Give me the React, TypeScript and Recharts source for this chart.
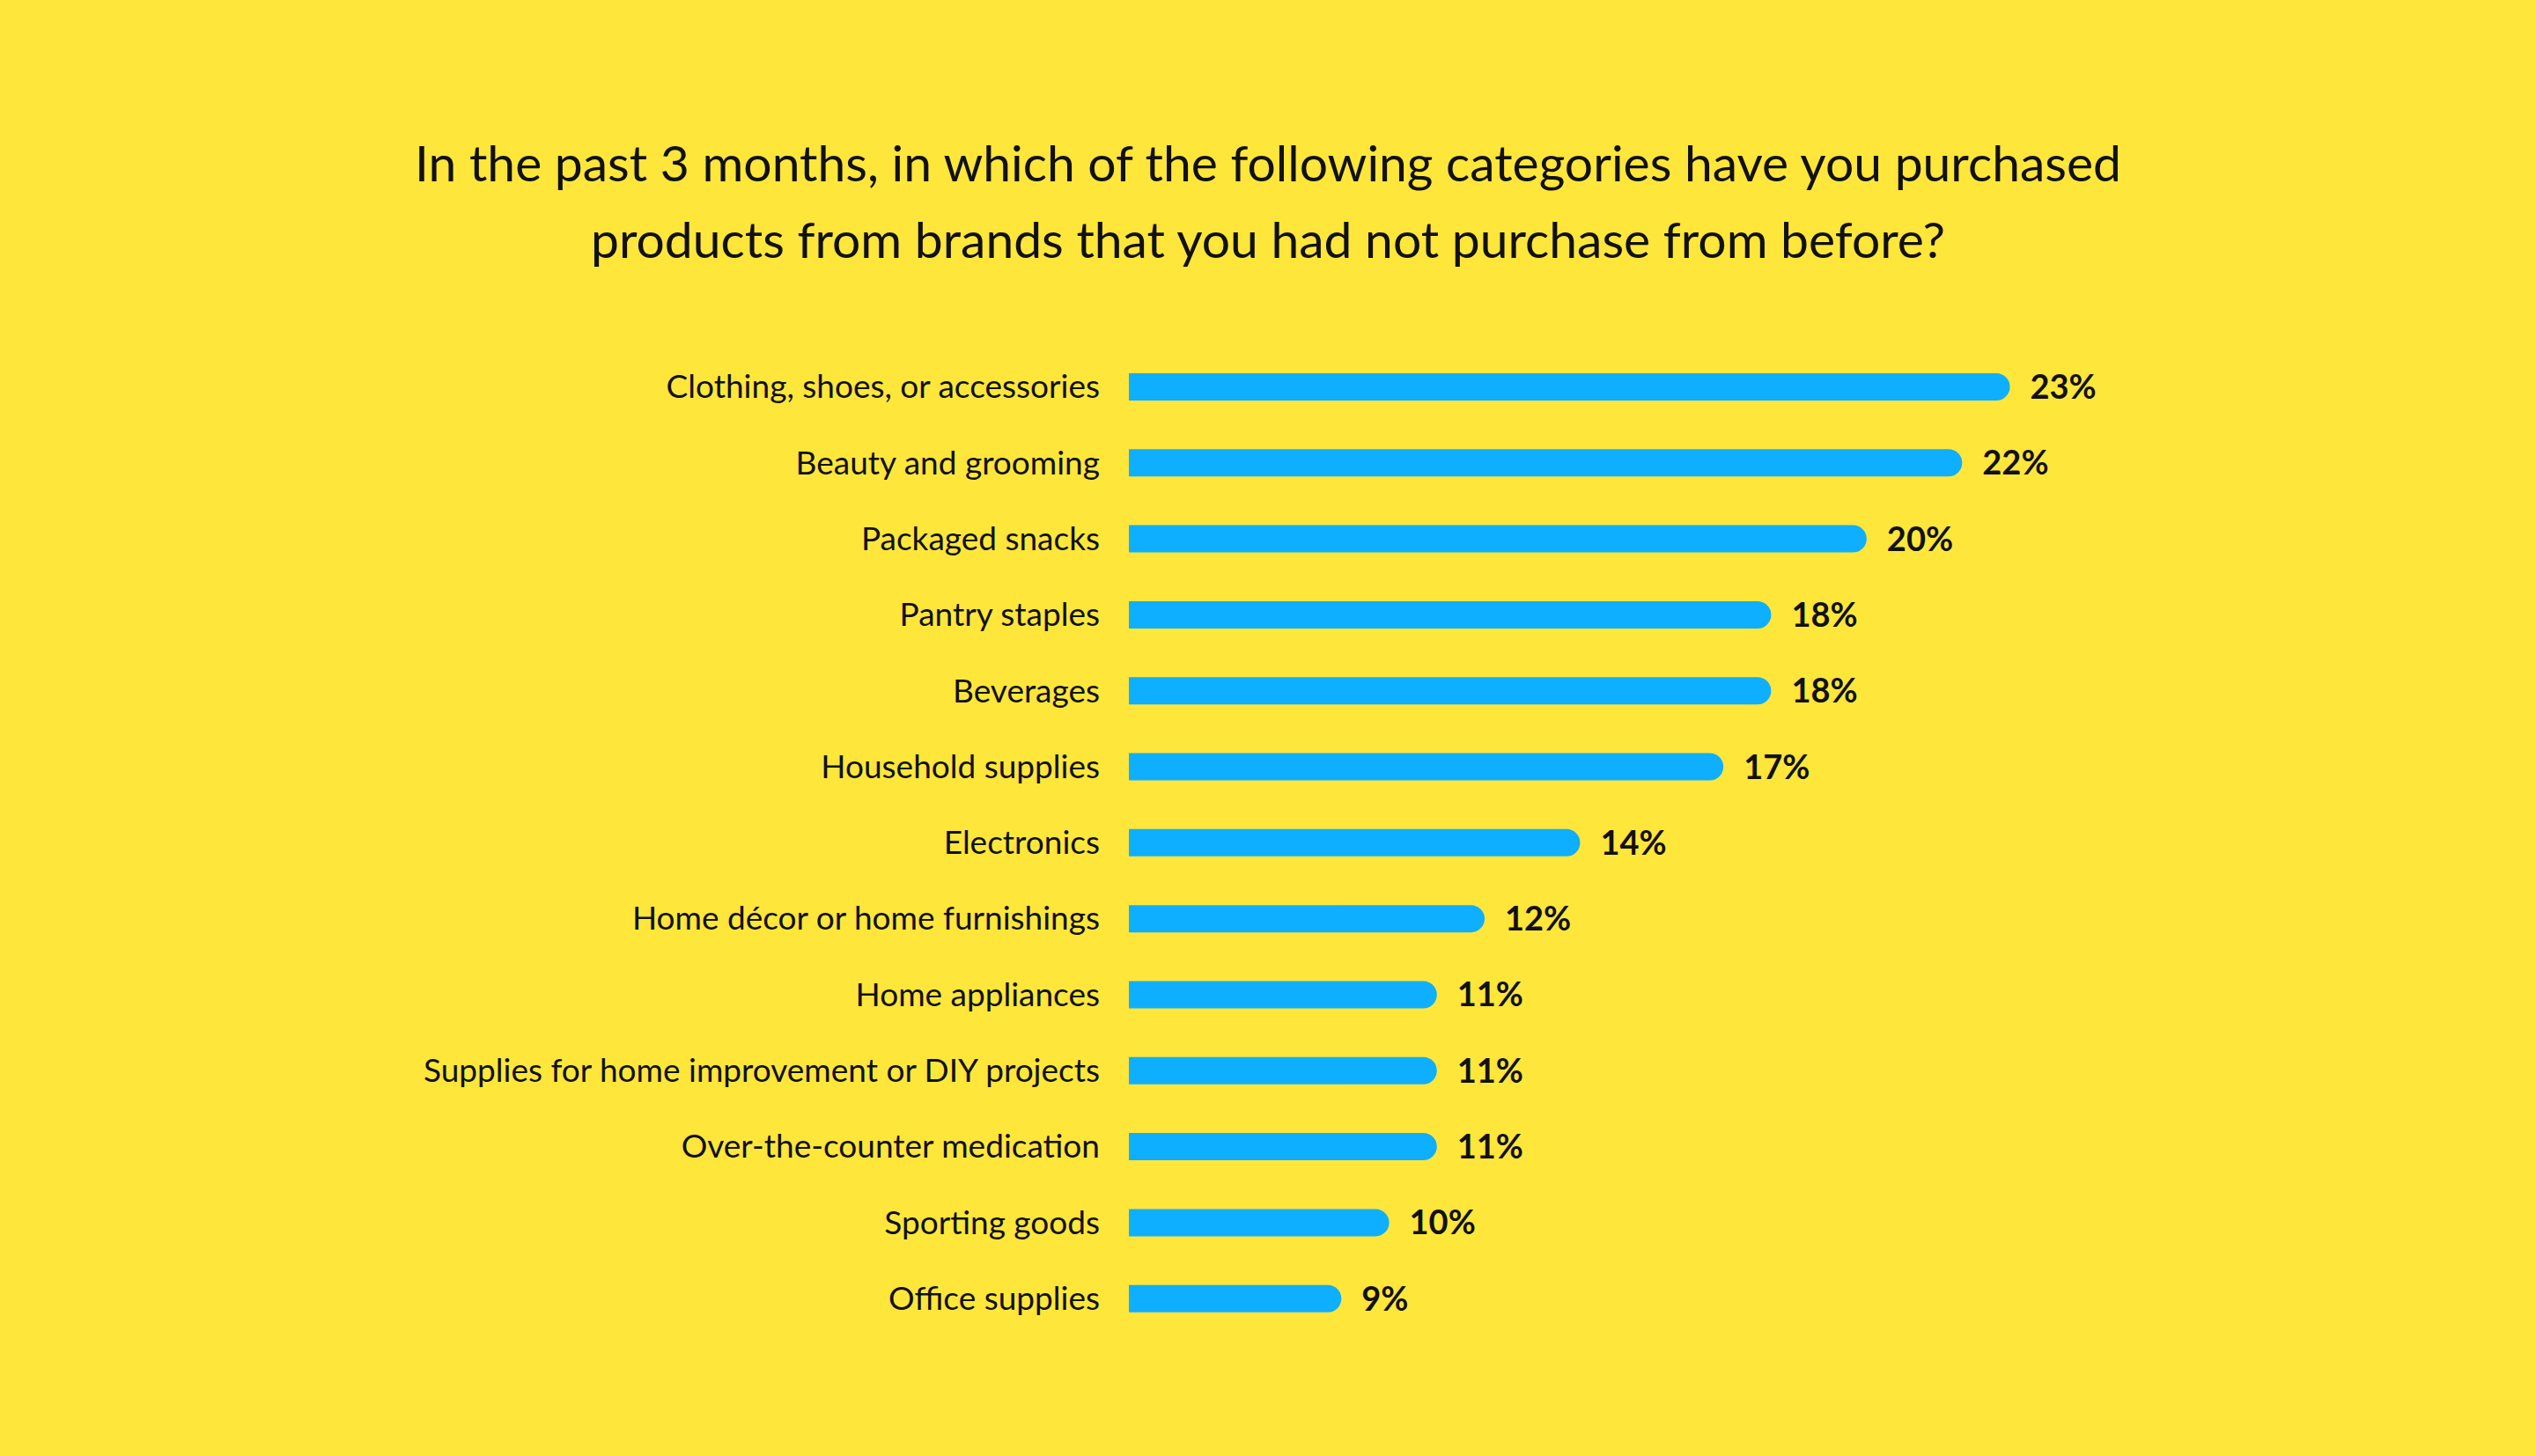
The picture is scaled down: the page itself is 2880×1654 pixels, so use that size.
import React from 'react';
import { Bar, BarChart, LabelList, XAxis, YAxis } from 'recharts';

const categories = [
  'Clothing, shoes, or accessories',
  'Beauty and grooming',
  'Packaged snacks',
  'Pantry staples',
  'Beverages',
  'Household supplies',
  'Electronics',
  'Home décor or home furnishings',
  'Home appliances',
  'Supplies for home improvement or DIY projects',
  'Over-the-counter medication',
  'Sporting goods',
  'Office supplies',
];

const shares = [23, 22, 20, 18, 18, 17, 14, 12, 11, 11, 11, 10, 9];

const titleLines = [
  'In the past 3 months, in which of the following categories have you purchased',
  'products from brands that you had not purchase from before?',
];

const BG = '#FFE63B';
const BAR = '#0FAFFF';
const FONT = 'Lato, "Noto Sans", sans-serif';

const W = 2880;
const H = 1654;

export default function App() {
  const data = categories.map((name, i) => ({ name, value: shares[i] }));

  return (
    <div style={{ position: 'absolute', left: 0, top: 0, width: W, height: H, background: BG }}>
      <svg width={W} height={H} style={{ position: 'absolute', left: 0, top: 0 }}>
        {titleLines.map((line, i) => (
          <text
            key={i}
            x={1440}
            y={206 + i * 87}
            textAnchor="middle"
            fontFamily={FONT}
            fontSize={57}
            fill="#111"
          >
            {line}
          </text>
        ))}
      </svg>
      <div style={{ position: 'absolute', left: 0, top: 0 }}>
        <BarChart
          width={W}
          height={H}
          data={data}
          layout="vertical"
          margin={{ top: 396, right: 489, bottom: 136, left: 0 }}
        >
          <XAxis type="number" hide domain={[4.55, 25]} allowDataOverflow />
          <YAxis
            type="category"
            dataKey="name"
            width={1282}
            axisLine={false}
            tickLine={false}
            tickSize={0}
            tickMargin={33}
            interval={0}
            tick={{ fill: '#111', fontSize: 37, fontFamily: FONT }}
          />
          <Bar dataKey="value" fill={BAR} barSize={31} radius={[0, 16, 16, 0]} isAnimationActive={false}>
            <LabelList
              dataKey="value"
              position="right"
              offset={23}
              formatter={(v: number) => `${v}%`}
              style={{ fill: '#111', fontSize: 38, fontWeight: 700, fontFamily: FONT }}
            />
          </Bar>
        </BarChart>
      </div>
    </div>
  );
}
